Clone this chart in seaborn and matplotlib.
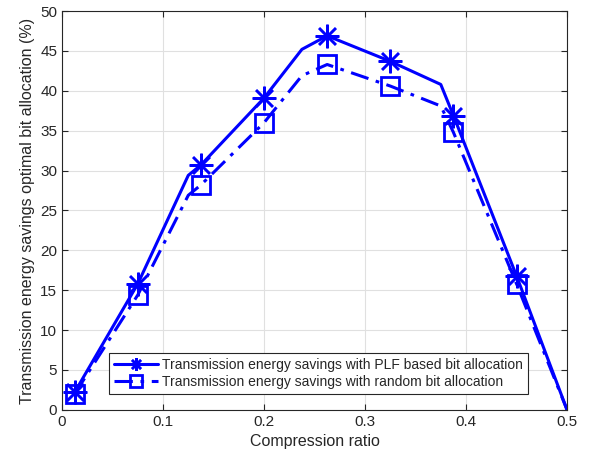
import matplotlib
matplotlib.use("Agg")
import matplotlib.pyplot as plt
import seaborn as sns
import pandas as pd
import numpy as np

sns.set_theme(style="whitegrid")
plt.rcParams['font.family'] = ['Liberation Sans', 'DejaVu Sans']

# Data
x_plf = [0.0125, 0.075, 0.125, 0.1375, 0.2, 0.2375, 0.2625, 0.325, 0.375, 0.3875, 0.45, 0.5]
y_plf = [2.2, 15.8, 29.4, 30.7, 39.1, 45.2, 46.9, 43.7, 40.8, 36.9, 16.8, 0.0]
x_rand = [0.0125, 0.075, 0.125, 0.1375, 0.2, 0.2375, 0.2625, 0.325, 0.375, 0.3875, 0.45, 0.5]
y_rand = [2.0, 14.4, 26.9, 28.2, 36.0, 41.9, 43.3, 40.6, 38.1, 34.8, 15.8, 0.0]
marker_idx = [0, 1, 3, 4, 6, 7, 9, 10]

label_plf = "Transmission energy savings with PLF based bit allocation"
label_rand = "Transmission energy savings with random bit allocation"

fig = plt.figure(figsize=(5.93, 4.61), dpi=100)
ax = fig.add_axes([0.1046, 0.111, 0.8516, 0.865])

blue = "#0000FF"
df1 = pd.DataFrame({"x": x_plf, "y": y_plf})
df2 = pd.DataFrame({"x": x_rand, "y": y_rand})
sns.lineplot(data=df1, x="x", y="y", ax=ax, color=blue, lw=2.2, marker=(8, 2, 0),
             markersize=17, markeredgewidth=1.8, markeredgecolor=blue, markerfacecolor=blue,
             markevery=marker_idx, label=label_plf, sort=False)
sns.lineplot(data=df2, x="x", y="y", ax=ax, color=blue, lw=2.2, linestyle=(0, (6, 2.5, 1.2, 2.5)),
             marker="s", markersize=13, markerfacecolor="none", markeredgecolor=blue,
             markeredgewidth=2, markevery=marker_idx, label=label_rand, sort=False)

ax.set_xlim(0, 0.5)
ax.set_ylim(0, 50)
ax.set_xticks([0, 0.1, 0.2, 0.3, 0.4, 0.5])
ax.set_xticklabels(["0", "0.1", "0.2", "0.3", "0.4", "0.5"])
ax.set_yticks(range(0, 51, 5))
ax.set_xlabel("Compression ratio", fontsize=11.5, color="#262626")
ax.set_ylabel("Transmission energy savings optimal bit allocation (%)", fontsize=11.5, color="#262626")
ax.tick_params(axis="both", direction="in", length=4, labelsize=11, colors="#262626",
               top=True, right=True, bottom=True, left=True, width=0.8)
ax.grid(True, color="#e0e0e0", lw=0.8)
ax.set_facecolor("white")
for s in ax.spines.values():
    s.set_color("#262626")
    s.set_linewidth(0.8)

leg = ax.legend(loc="lower left", bbox_to_anchor=(0.093, 0.04), fontsize=10, frameon=True,
                fancybox=False, edgecolor="#262626", framealpha=1, borderpad=0.35,
                labelspacing=0.2, handlelength=3.2, handletextpad=0.3, borderaxespad=0)
leg.get_frame().set_linewidth(0.8)
for h in leg.legend_handles:
    h.set_markersize(9)

fig.savefig("out.png", dpi=100)
